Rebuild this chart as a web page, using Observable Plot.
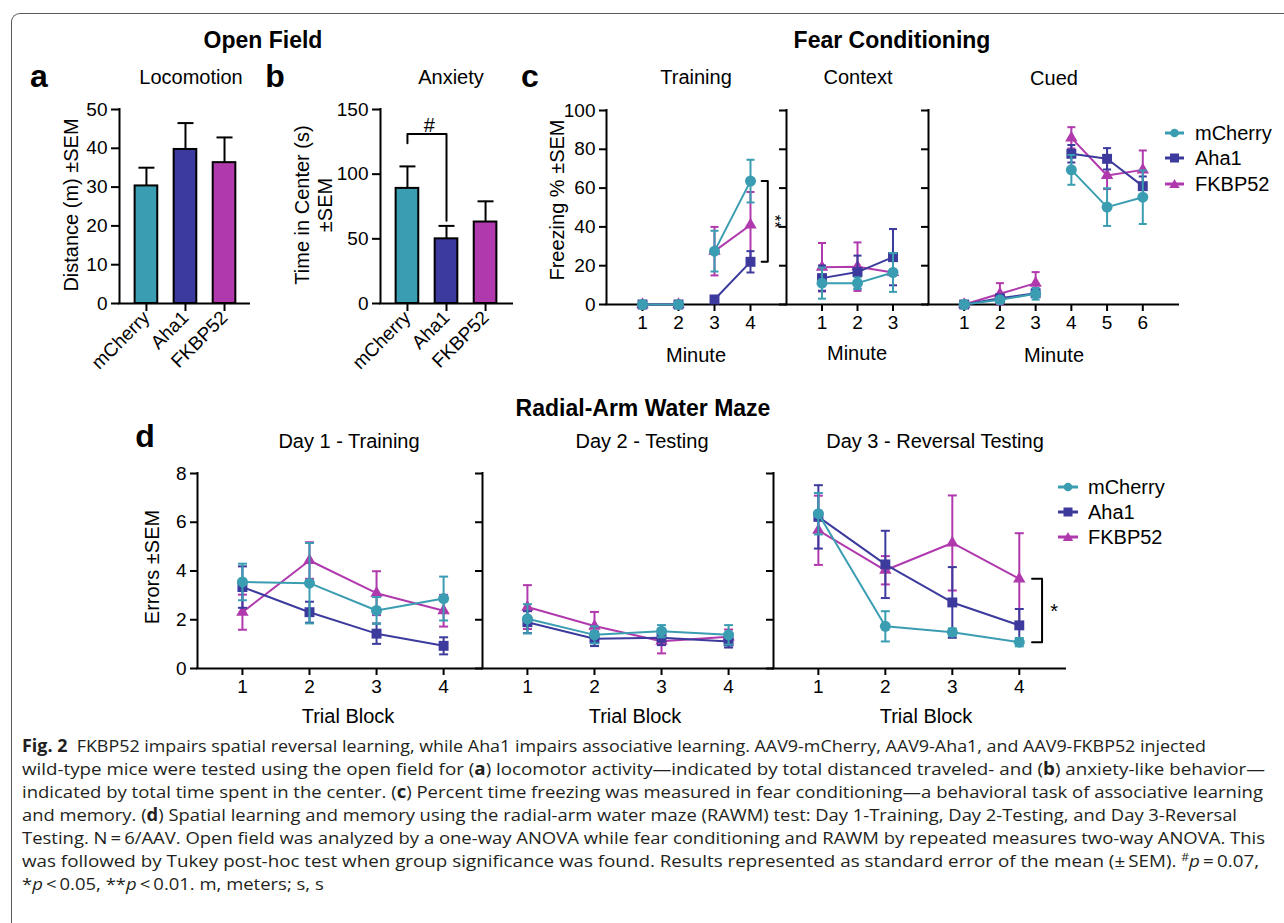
<!DOCTYPE html>
<html><head><meta charset="utf-8">
<script src="https://cdn.jsdelivr.net/npm/d3@7"></script>
<script src="https://cdn.jsdelivr.net/npm/@observablehq/plot@0.6"></script>
<style>
body{margin:0;background:#fff;}
#root{position:relative;width:1284px;height:923px;overflow:hidden;background:#fff;font-family:"Liberation Sans",Arial,sans-serif;color:#000;}
.t{position:absolute;transform:translate(-50%,-50%);white-space:nowrap;line-height:1;}
.rot{transform:translate(-50%,-50%) rotate(-90deg);text-align:center;}
.b{font-weight:bold;}
#frame{position:absolute;left:11px;top:13px;width:1300px;height:950px;border-left:1.5px solid #5a5a5a;border-top:1.5px solid #5a5a5a;border-top-left-radius:9px;}
.cap{position:absolute;left:22px;white-space:nowrap;font-family:"Open Sans",sans-serif;font-size:17px;color:#231f20;transform-origin:0 50%;line-height:1;}
.lg{position:absolute;white-space:nowrap;font-size:20px;line-height:1;transform:translateY(-50%);}
svg.plotsvg{position:absolute;}
</style></head>
<body><div id="root"><div id="frame"></div></div>
<script>
// ---------------- data ----------------
const groups = ["mCherry", "Aha1", "FKBP52"];
const colors = ["#3a9db1", "#3c3a9c", "#b03aad"];

// Open field
const locoMean = [30.3, 39.7, 36.3];
const locoSem = [4.7, 6.8, 6.5];
const anxMean = [89, 50, 63];
const anxSem = [17, 10, 16];

// Fear conditioning - Training
const trainMinutes = [1, 2, 3, 4];
const trainSegment = [1, 1, 2, 2];
const trainMCh = [0, 0, 27.5, 63.6];
const trainMChSem = [0, 0, 10.5, 11];
const trainAha = [0, 0, 2.6, 22];
const trainAhaSem = [0, 0, 1.2, 5.5];
const trainFk = [0, 0, 27.5, 41];
const trainFkSem = [0, 0, 12.5, 17];

// Context
const ctxMinutes = [1, 2, 3];
const ctxMCh = [11, 11, 16.5];
const ctxMChSem = [8, 3, 10];
const ctxAha = [13.6, 16.7, 24.4];
const ctxAhaSem = [6.5, 8.5, 14.5];
const ctxFk = [19.2, 19.5, 16.5];
const ctxFkSem = [12.5, 12.5, 1.5];

// Cued
const cuedMinutes = [1, 2, 3, 4, 5, 6];
const cuedSegment = [1, 1, 1, 2, 2, 2];
const cuedMCh = [0, 2.4, 5.5, 69.4, 50.2, 55.3];
const cuedMChSem = [0, 1, 3, 7.7, 9.7, 13.8];
const cuedAha = [0, 3.2, 5.8, 77.7, 75.1, 61];
const cuedAhaSem = [0, 1, 1.5, 4.5, 5.5, 5];
const cuedFk = [0, 5.5, 11, 85.9, 66.5, 69.4];
const cuedFkSem = [0, 5.5, 5.7, 5.5, 7, 10];

// RAWM
const blocks = [1, 2, 3, 4];
const d1MCh = [3.55, 3.5, 2.38, 2.87];
const d1MChSem = [0.75, 1.65, 0.55, 0.9];
const d1Aha = [3.34, 2.31, 1.43, 0.93];
const d1AhaSem = [0.85, 0.43, 0.42, 0.35];
const d1Fk = [2.31, 4.43, 3.09, 2.37];
const d1FkSem = [0.72, 0.75, 0.9, 0.65];

const d2MCh = [2.04, 1.38, 1.53, 1.38];
const d2MChSem = [0.6, 0.35, 0.25, 0.4];
const d2Aha = [1.9, 1.22, 1.26, 1.11];
const d2AhaSem = [0.45, 0.3, 0.3, 0.25];
const d2Fk = [2.52, 1.74, 1.12, 1.3];
const d2FkSem = [0.9, 0.58, 0.5, 0.3];

const d3MCh = [6.35, 1.73, 1.49, 1.08];
const d3MChSem = [0.85, 0.62, 0.15, 0.17];
const d3Aha = [6.22, 4.27, 2.71, 1.77];
const d3AhaSem = [1.3, 1.38, 1.45, 0.67];
const d3Fk = [5.67, 4.03, 5.15, 3.68];
const d3FkSem = [1.42, 0.58, 1.95, 1.87];

// ---------------- helpers ----------------
const root = document.getElementById("root");
const FONT = "'Liberation Sans', Arial, sans-serif";
const capSym = {draw(ctx, size) { const w = Math.sqrt(size / Math.PI); ctx.moveTo(-w, 0); ctx.lineTo(w, 0); }};
const symbols = ["circle", "square", "triangle"];
const symR = [5.5, 5.6, 4.6];

function rows(xs, mean, sem, seg) {
  return xs.map((x, i) => ({x, mean: mean[i], sem: sem[i], seg: seg ? seg[i] : 1}));
}

function seriesMarks(rs, gi, capR) {
  const color = colors[gi];
  const withErr = rs.filter(d => d.sem > 0);
  return [
    Plot.line(rs, {x: "x", y: "mean", z: "seg", stroke: color, strokeWidth: 2}),
    Plot.ruleX(withErr, {x: "x", y1: d => d.mean - d.sem, y2: d => d.mean + d.sem, stroke: color, strokeWidth: 2}),
    Plot.dot(withErr, {x: "x", y: d => d.mean - d.sem, symbol: capSym, r: capR, stroke: color, strokeWidth: 2, fill: "none"}),
    Plot.dot(withErr, {x: "x", y: d => d.mean + d.sem, symbol: capSym, r: capR, stroke: color, strokeWidth: 2, fill: "none"}),
    Plot.dot(rs, {x: "x", y: "mean", symbol: symbols[gi], r: symR[gi], fill: color, stroke: "none"})
  ];
}

function panel(box, xDomain, yDomain, marks, o) {
  const m = 70;
  const tickSize = o.tickSize || 7;
  const p = Plot.plot({
    width: box.r - box.l + 2 * m, height: box.b - box.t + 2 * m,
    marginLeft: m, marginRight: m, marginTop: m, marginBottom: m,
    style: {background: "transparent", overflow: "visible", fontFamily: FONT, color: "#000"},
    x: {type: "linear", domain: xDomain},
    y: {type: "linear", domain: yDomain},
    color: {type: "identity"},
    marks: [
      Plot.axisY({ticks: o.yTicks, tickSize, tickPadding: 4, fontSize: 19, strokeWidth: 2, label: null,
        tickFormat: o.yLabels ? (d => String(d)) : (() => "")}),
      Plot.axisX({ticks: o.xTicks, tickSize, tickPadding: o.xPad || 4, fontSize: 19, strokeWidth: 2, label: null,
        tickFormat: o.xFormat || (d => String(d)), tickRotate: o.xRotate || 0}),
      Plot.ruleY([yDomain[0]], {strokeWidth: 2, strokeLinecap: "square"}),
      Plot.ruleX([xDomain[0]], {y1: yDomain[0], y2: yDomain[1], strokeWidth: 2, strokeLinecap: "square"}),
      ...marks
    ]
  });
  p.classList.add("plotsvg");
  p.style.position = "absolute";
  p.style.left = (box.l - m) + "px";
  p.style.top = (box.t - m) + "px";
  root.appendChild(p);
}

function text(str, x, y, size, extra) {
  const d = document.createElement("div");
  d.className = "t " + (extra || "");
  d.style.left = x + "px"; d.style.top = y + "px"; d.style.fontSize = size + "px";
  d.innerHTML = str;
  root.appendChild(d);
}

// ---------------- panel a & b: bars ----------------
function barPanel(box, xDomain, mean, sem, yDomain, yTicks, extra) {
  const rs = groups.map((g, i) => ({i: i + 1, mean: mean[i], sem: sem[i], color: colors[i]}));
  panel(box, xDomain, yDomain, [
    Plot.ruleX(rs, {x: "i", y1: "mean", y2: d => d.mean + d.sem, strokeWidth: 2}),
    Plot.dot(rs, {x: "i", y: d => d.mean + d.sem, symbol: capSym, r: 8, stroke: "#000", strokeWidth: 2, fill: "none"}),
    Plot.rect(rs, {x1: d => d.i - 0.29, x2: d => d.i + 0.29, y1: 0, y2: "mean", fill: "color", stroke: "#000", strokeWidth: 2}),
    ...(extra || [])
  ], {yTicks, yLabels: true, xTicks: [1, 2, 3], xFormat: i => groups[i - 1], xRotate: -45, tickSize: 8, xPad: 3});
}

barPanel({l: 119, r: 249, t: 109, b: 303}, [0.31, 3.64], locoMean, locoSem, [0, 50], [0, 10, 20, 30, 40, 50]);
barPanel({l: 380, r: 512, t: 109, b: 303}, [0.31, 3.69], anxMean, anxSem, [0, 150], [0, 50, 100, 150], [
  Plot.line([[1, 124], [1, 131], [2, 131], [2, 64]], {x: d => d[0], y: d => d[1], strokeWidth: 2}),
  Plot.text(["#"], {x: 1.56, y: 137.5, text: d => d, fontSize: 20})
]);

// ---------------- panel c: fear conditioning ----------------
const cY = [0, 100], cTicks = [0, 20, 40, 60, 80, 100];
const cBox = (l, r) => ({l, r, t: 110, b: 304});
panel(cBox(606, 786), [0, 5], cY, [
  ...seriesMarks(rows(trainMinutes, trainFk, trainFkSem, trainSegment), 2, 4),
  ...seriesMarks(rows(trainMinutes, trainAha, trainAhaSem, trainSegment), 1, 4),
  ...seriesMarks(rows(trainMinutes, trainMCh, trainMChSem, trainSegment), 0, 4),
  Plot.line([[4.31, trainMCh[3]], [4.48, trainMCh[3]], [4.48, trainAha[3]], [4.31, trainAha[3]]], {x: d => d[0], y: d => d[1], strokeWidth: 2}),
  Plot.text(["**"], {x: 4.66, y: (trainMCh[3] + trainAha[3]) / 2, text: d => d, rotate: 90, fontSize: 17})
], {yTicks: cTicks, yLabels: true, xTicks: trainMinutes});
panel(cBox(786, 928), [0, 4], cY, [
  ...seriesMarks(rows(ctxMinutes, ctxFk, ctxFkSem), 2, 4),
  ...seriesMarks(rows(ctxMinutes, ctxAha, ctxAhaSem), 1, 4),
  ...seriesMarks(rows(ctxMinutes, ctxMCh, ctxMChSem), 0, 4)
], {yTicks: cTicks, yLabels: false, xTicks: ctxMinutes});
panel(cBox(928, 1178), [0, 7], cY, [
  ...seriesMarks(rows(cuedMinutes, cuedFk, cuedFkSem, cuedSegment), 2, 4),
  ...seriesMarks(rows(cuedMinutes, cuedAha, cuedAhaSem, cuedSegment), 1, 4),
  ...seriesMarks(rows(cuedMinutes, cuedMCh, cuedMChSem, cuedSegment), 0, 4)
], {yTicks: cTicks, yLabels: false, xTicks: cuedMinutes});

// ---------------- panel d: RAWM ----------------
const dY = [0, 8], dTicks = [0, 2, 4, 6, 8];
const dBox = (l, r) => ({l, r, t: 473, b: 668});
panel(dBox(197, 482), [0.33, 4.58], dY, [
  ...seriesMarks(rows(blocks, d1Fk, d1FkSem), 2, 4.5),
  ...seriesMarks(rows(blocks, d1Aha, d1AhaSem), 1, 4.5),
  ...seriesMarks(rows(blocks, d1MCh, d1MChSem), 0, 4.5)
], {yTicks: dTicks, yLabels: true, xTicks: blocks});
panel(dBox(482, 773), [0.33, 4.67], dY, [
  ...seriesMarks(rows(blocks, d2Fk, d2FkSem), 2, 4.5),
  ...seriesMarks(rows(blocks, d2Aha, d2AhaSem), 1, 4.5),
  ...seriesMarks(rows(blocks, d2MCh, d2MChSem), 0, 4.5)
], {yTicks: dTicks, yLabels: false, xTicks: blocks});
panel(dBox(773, 1065), [0.33, 4.69], dY, [
  ...seriesMarks(rows(blocks, d3Fk, d3FkSem), 2, 4.5),
  ...seriesMarks(rows(blocks, d3Aha, d3AhaSem), 1, 4.5),
  ...seriesMarks(rows(blocks, d3MCh, d3MChSem), 0, 4.5),
  Plot.line([[4.19, d3Fk[3]], [4.34, d3Fk[3]], [4.34, d3MCh[3]], [4.19, d3MCh[3]]], {x: d => d[0], y: d => d[1], strokeWidth: 2}),
  Plot.text(["*"], {x: 4.52, y: (d3Fk[3] + d3MCh[3]) / 2 - 0.05, text: d => d, fontSize: 20})
], {yTicks: dTicks, yLabels: false, xTicks: blocks});

// ---------------- texts ----------------
text("Open Field", 263, 40, 23, "b");
text("Fear Conditioning", 892, 40, 23, "b");
text("Radial-Arm Water Maze", 643, 408, 23, "b");
text("a", 39, 76, 32, "b");
text("b", 275, 76, 32, "b");
text("c", 530, 76, 32, "b");
text("d", 145, 436, 32, "b");
text("Locomotion", 191, 77, 20);
text("Anxiety", 451, 77, 20);
text("Training", 696, 77, 20);
text("Context", 858, 77, 20);
text("Cued", 1054, 78, 20);
text("Day 1 - Training", 349, 441, 20);
text("Day 2 - Testing", 642, 441, 20);
text("Day 3 - Reversal Testing", 935, 441, 20);
text("Distance (m) ±SEM", 71, 205, 20, "rot");
text("Time in Center (s)<br>±SEM", 314, 205, 20, "rot");
text("Freezing % ±SEM", 557, 200, 20, "rot");
text("Errors ±SEM", 152, 567, 20, "rot");
text("Minute", 696, 355, 20);
text("Minute", 857, 353, 20);
text("Minute", 1054, 355, 20);
text("Trial Block", 348, 716, 20);
text("Trial Block", 635, 716, 20);
text("Trial Block", 926, 716, 20);
root.querySelectorAll(".rot").forEach(e => { e.style.lineHeight = "1.15"; });

// ---------------- legends ----------------
function legendSvg(gi, w) {
  const c = colors[gi], cx = w / 2, cy = 8;
  let mk;
  if (gi === 0) mk = `<circle cx="${cx}" cy="${cy}" r="4.3" fill="${c}"/>`;
  else if (gi === 1) mk = `<rect x="${cx - 4.5}" y="${cy - 4.5}" width="9" height="9" fill="${c}"/>`;
  else mk = `<path d="M${cx},${cy - 5} L${cx + 5.2},${cy + 4} L${cx - 5.2},${cy + 4}Z" fill="${c}"/>`;
  return `<svg width="${w}" height="16" style="position:absolute;left:0;top:0"><line x1="0" x2="${w}" y1="${cy}" y2="${cy}" stroke="${c}" stroke-width="3"/>${mk}</svg>`;
}
function legend(sx, sw, tx, ys) {
  groups.forEach((g, i) => {
    const s = document.createElement("div");
    s.style.cssText = `position:absolute;left:${sx}px;top:${ys[i] - 8}px;width:${sw}px;height:16px;`;
    s.innerHTML = legendSvg(i, sw);
    root.appendChild(s);
    const t = document.createElement("div");
    t.className = "lg";
    t.style.left = tx + "px"; t.style.top = ys[i] + "px";
    t.textContent = g;
    root.appendChild(t);
  });
}
legend(1165, 19, 1195, [133, 158, 184]);
legend(1058, 20, 1088, [487, 512, 537]);

// ---------------- caption ----------------
const capLines = [
  "<b>Fig. 2</b>&nbsp; FKBP52 impairs spatial reversal learning, while Aha1 impairs associative learning. AAV9-mCherry, AAV9-Aha1, and AAV9-FKBP52 injected",
  "wild-type mice were tested using the open field for (<b>a</b>) locomotor activity—indicated by total distanced traveled- and (<b>b</b>) anxiety-like behavior—",
  "indicated by total time spent in the center. (<b>c</b>) Percent time freezing was measured in fear conditioning—a behavioral task of associative learning",
  "and memory. (<b>d</b>) Spatial learning and memory using the radial-arm water maze (RAWM) test: Day 1-Training, Day 2-Testing, and Day 3-Reversal",
  "Testing. N\u2009=\u20096/AAV. Open field was analyzed by a one-way ANOVA while fear conditioning and RAWM by repeated measures two-way ANOVA. This",
  "was followed by Tukey post-hoc test when group significance was found. Results represented as standard error of the mean (±\u2009SEM). <sup style=\"font-size:11px\">#</sup><i>p</i>\u2009=\u20090.07,",
  "*<i>p</i>\u2009&lt;\u20090.05, **<i>p</i>\u2009&lt;\u20090.01. m, meters; s, s"
];
const capRight = [1206, 1265, 1263, 1237, 1265, 1259, null];
const capEls = capLines.map((h, i) => {
  const d = document.createElement("div");
  d.className = "cap";
  d.innerHTML = h;
  d.style.top = (745 + i * 23) + "px";
  root.appendChild(d);
  return d;
});
function fitCaption() {
  const fs = [];
  capEls.forEach((d, i) => {
    d.style.transform = "translateY(-50%)";
    const w = d.getBoundingClientRect().width;
    if (capRight[i]) {
      const f = (capRight[i] - 22) / w;
      fs.push(f);
      d.style.transform = `translateY(-50%) scaleX(${f})`;
    }
  });
  const avg = d3.mean(fs);
  capEls.forEach((d, i) => { if (!capRight[i]) d.style.transform = `translateY(-50%) scaleX(${avg})`; });
}
fitCaption();
if (document.fonts && document.fonts.ready) document.fonts.ready.then(fitCaption);
</script>
</body></html>
